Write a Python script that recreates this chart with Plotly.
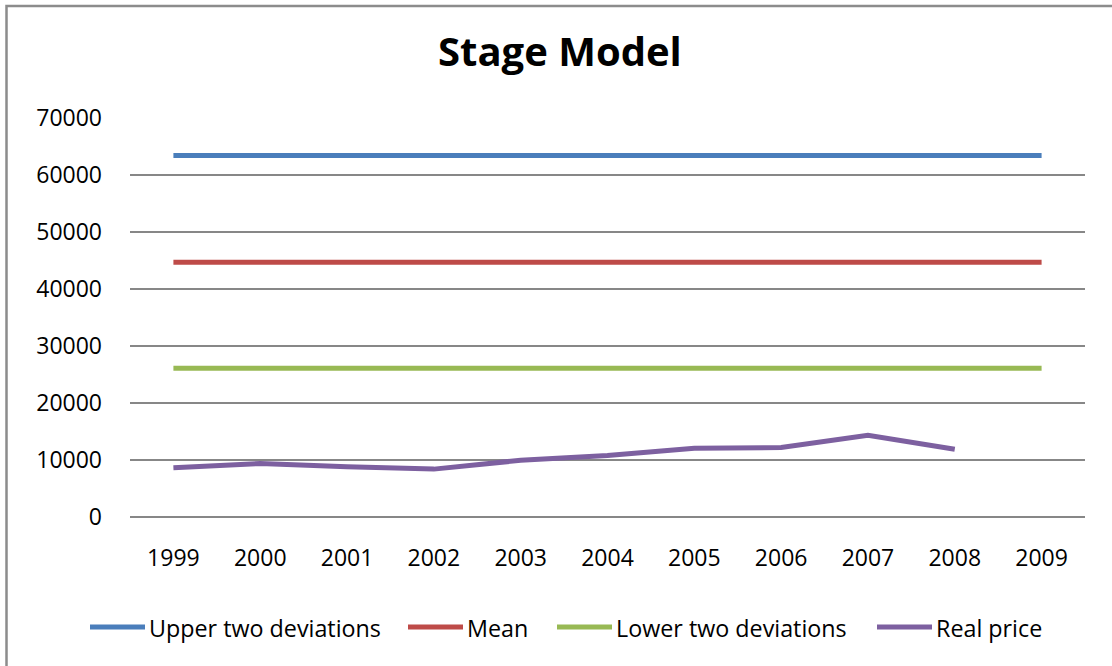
import plotly.graph_objects as go

years = ["1999", "2000", "2001", "2002", "2003", "2004", "2005", "2006", "2007", "2008", "2009"]
upper_two_dev = [63400] * 11
mean_level = [44700] * 11
lower_two_dev = [26100] * 11
real_price = [8650, 9400, 8830, 8400, 9950, 10800, 12050, 12200, 14350, 11870, None]

series = [
    ("Upper two deviations", upper_two_dev, "#4A7EBB"),
    ("Mean", mean_level, "#BE4B48"),
    ("Lower two deviations", lower_two_dev, "#98B954"),
    ("Real price", real_price, "#7D60A0"),
]

FONT = "Open Sans"
LEFT, RIGHT, TOP, BOTTOM = 130, 1085, 118, 517
PW, PH = RIGHT - LEFT, BOTTOM - TOP


def px_x(x):
    return (x - LEFT) / PW


def px_y(y):
    return (BOTTOM - y) / PH


fig = go.Figure()
for name, vals, color in series:
    fig.add_trace(go.Scatter(
        x=years, y=vals, name=name, mode="lines",
        line=dict(color=color, width=5),
        connectgaps=False, showlegend=False,
    ))

# legend row: key line followed by its label
legend_keys = [90, 408, 557, 877]
shapes = []
annotations = []
for (name, _, color), kx in zip(series, legend_keys):
    shapes.append(dict(
        type="line", xref="paper", yref="paper",
        x0=px_x(kx), x1=px_x(kx + 55), y0=px_y(627), y1=px_y(627),
        line=dict(color=color, width=5),
    ))
    annotations.append(dict(
        text=name, xref="paper", yref="paper",
        x=px_x(kx + 57), y=px_y(628), xanchor="left", yanchor="middle",
        showarrow=False, font=dict(family=FONT, size=23.3, color="#000000"),
    ))

annotations.append(dict(
    text="<b>Stage Model</b>", xref="paper", yref="paper",
    x=px_x(560), y=px_y(50),
    xanchor="center", yanchor="middle", showarrow=False,
    font=dict(family=FONT, size=40, color="#000000"),
))

shapes.append(dict(
    type="rect", xref="paper", yref="paper",
    x0=px_x(6.5), x1=1.1, y0=-0.6, y1=px_y(6),
    line=dict(color="#8C8C8C", width=2.5), fillcolor="rgba(0,0,0,0)",
    layer="below",
))

fig.update_layout(
    width=1112, height=666,
    margin=dict(l=LEFT, r=1112 - RIGHT, t=TOP, b=666 - BOTTOM),
    paper_bgcolor="white", plot_bgcolor="white",
    font=dict(family=FONT, size=23, color="#000000"),
    showlegend=False,
    annotations=annotations,
    shapes=shapes,
)

fig.update_xaxes(
    type="category", range=[-0.5, 10.5],
    showgrid=False, showline=False, zeroline=False,
    ticks="", ticklabelstandoff=25,
    tickfont=dict(family=FONT, size=23),
)
fig.update_yaxes(
    range=[0, 70000], dtick=10000, tickformat="d",
    showgrid=True, gridcolor="#878787", gridwidth=1.8,
    zeroline=True, zerolinecolor="#878787", zerolinewidth=1.8,
    showline=False, ticks="", ticklabelstandoff=27,
    tickfont=dict(family=FONT, size=23),
)

fig.write_html("out.html")
